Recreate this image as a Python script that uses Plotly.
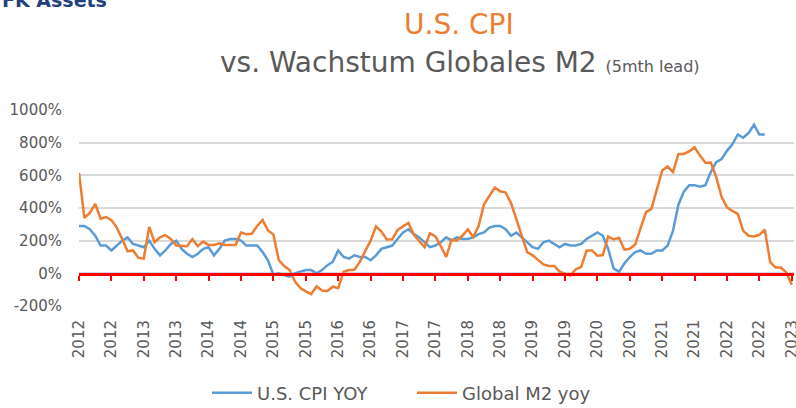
import plotly.graph_objects as go

# ---------------- data ----------------
tick_pos = [0, 6, 12, 18, 24, 30, 36, 42, 48, 54, 60, 66, 72, 78, 84, 90, 96, 102, 108, 114, 120, 126, 132]
tick_text = ["2012", "2012", "2013", "2013", "2014", "2014", "2015", "2015", "2016", "2016",
             "2017", "2017", "2018", "2018", "2019", "2019", "2020", "2020", "2021", "2021",
             "2022", "2022", "2023"]

# U.S. CPI YOY (monthly, Jan 2012 ...)
cpi = [290, 290, 270, 230, 170, 170, 140, 170, 200, 220, 180, 170,
       160, 200, 150, 110, 140, 180, 200, 150, 120, 100, 120, 150,
       160, 110, 150, 200, 210, 210, 200, 170, 170, 170, 130, 80,
       -10, 0, -10, -20, 0, 10, 20, 20, 0, 20, 50, 70,
       140, 100, 90, 110, 100, 100, 80, 110, 150, 160, 170, 210,
       250, 270, 240, 220, 190, 160, 170, 190, 220, 200, 220, 210,
       210, 220, 240, 250, 280, 290, 290, 270, 230, 250, 220, 190,
       160, 150, 190, 200, 180, 160, 180, 170, 170, 180, 210, 230,
       250, 230, 150, 30, 10, 60, 100, 130, 140, 120, 120, 140,
       140, 170, 260, 420, 500, 540, 540, 530, 540, 620, 680, 700,
       750, 790, 850, 830, 860, 910, 850, 850]

# Global M2 yoy (5mth lead), monthly
m2 = [615, 340, 370, 425, 335, 345, 326, 280, 210, 135, 140, 95,
      90, 284, 190, 220, 234, 210, 170, 166, 166, 210, 166, 194,
      174, 174, 184, 174, 174, 174, 250, 240, 242, 290, 327, 262,
      238, 80, 45, 20, -50, -90, -110, -127, -80, -105, -108, -82,
      -90, 10, 20, 22, 70, 140, 200, 287, 256, 207, 208, 266,
      289, 309, 236, 196, 160, 245, 226, 167, 100, 206, 200, 230,
      269, 222, 290, 423, 472, 525, 502, 495, 430, 330, 225, 130,
      110, 85, 55, 45, 45, 10, 0, -14, 25, 40, 140, 140,
      108, 112, 225, 208, 218, 145, 150, 176, 277, 375, 395, 509,
      630, 654, 620, 731, 731, 747, 771, 721, 677, 679, 590, 468,
      404, 382, 364, 260, 230, 226, 236, 267, 69, 35, 35, 4, -70]

y_ticks = [-200, 0, 200, 400, 600, 800, 1000]
y_text = [f"{v}%" for v in y_ticks]

# ---------------- figure ----------------
W, H = 796, 408
L, R, T, B = 79, 2, 109.5, 102
plot_w = W - L - R
plot_h = H - T - B
FONT = "DejaVu Sans"
GRAY = "#595959"


def py(ypx):
    return (H - B - ypx) / plot_h


def px(xpx):
    return (xpx - L) / plot_w


fig = go.Figure()
fig.add_trace(go.Scatter(x=list(range(len(cpi))), y=cpi, mode="lines", name="U.S. CPI YOY",
                         line=dict(color="#5B9BD5", width=2.5)))
fig.add_trace(go.Scatter(x=list(range(len(m2))), y=m2, mode="lines", name="Global M2 yoy",
                         line=dict(color="#ED7D31", width=2.5)))
# helper trace for the zero axis with red ticks
fig.add_trace(go.Scatter(x=tick_pos, y=[0] * len(tick_pos), mode="none", xaxis="x2",
                         showlegend=False, hoverinfo="skip"))

xr = [0, plot_w / 5.4]
fig.update_layout(
    width=W, height=H,
    margin=dict(l=L, r=R, t=T, b=B, autoexpand=False),
    paper_bgcolor="white", plot_bgcolor="white",
    font=dict(family=FONT, color=GRAY),
    showlegend=True,
    legend=dict(orientation="h", xref="container", yref="container",
                x=412 / W, xanchor="center",
                y=1 - 393 / H, yanchor="middle", font=dict(size=18, color=GRAY),
                itemwidth=40, tracegroupgap=0, entrywidth=150, entrywidthmode="pixels"),
    xaxis=dict(range=xr, tickmode="array", tickvals=tick_pos, ticktext=tick_text,
               tickangle=-90, showgrid=False, showline=False, zeroline=False, automargin=False,
               ticks="", tickfont=dict(size=15, color=GRAY), ticklabelstandoff=10,
               ticklabeloverflow="allow"),
    xaxis2=dict(range=xr, overlaying="x", anchor="free", position=py(274), side="bottom",
                tickmode="array", tickvals=tick_pos, showticklabels=False, automargin=False,
                showgrid=False, zeroline=False, showline=True, linecolor="#FF0000",
                linewidth=2.5, ticks="outside", tickcolor="#FF0000", ticklen=5, tickwidth=2),
    yaxis=dict(range=[-200, 1000], tickmode="array", tickvals=y_ticks, ticktext=y_text,
               showgrid=True, gridcolor="#D9D9D9", gridwidth=2, zeroline=False, automargin=False,
               showline=False, ticks="", tickfont=dict(size=15, color=GRAY),
               ticklabelstandoff=16),
)

fig.add_annotation(text="U.S. CPI", xref="paper", yref="paper",
                   x=px(459), y=py(24), xanchor="center", yanchor="middle",
                   showarrow=False, font=dict(size=28, color="#ED7D31", family=FONT))
fig.add_annotation(text="vs. Wachstum Globales M2 <span style='font-size:16px'>(5mth lead)</span>",
                   xref="paper", yref="paper",
                   x=px(460), y=py(62), xanchor="center", yanchor="middle",
                   showarrow=False, font=dict(size=28, color=GRAY, family=FONT))
fig.add_annotation(text="<b>FK Assets</b>", xref="paper", yref="paper",
                   x=px(0), y=py(12), xanchor="left", yanchor="bottom",
                   showarrow=False, font=dict(size=19, color="#24407F", family=FONT))

fig.write_html("out.html", config={"displayModeBar": False},
               post_script="document.body.style.margin='0px';")
